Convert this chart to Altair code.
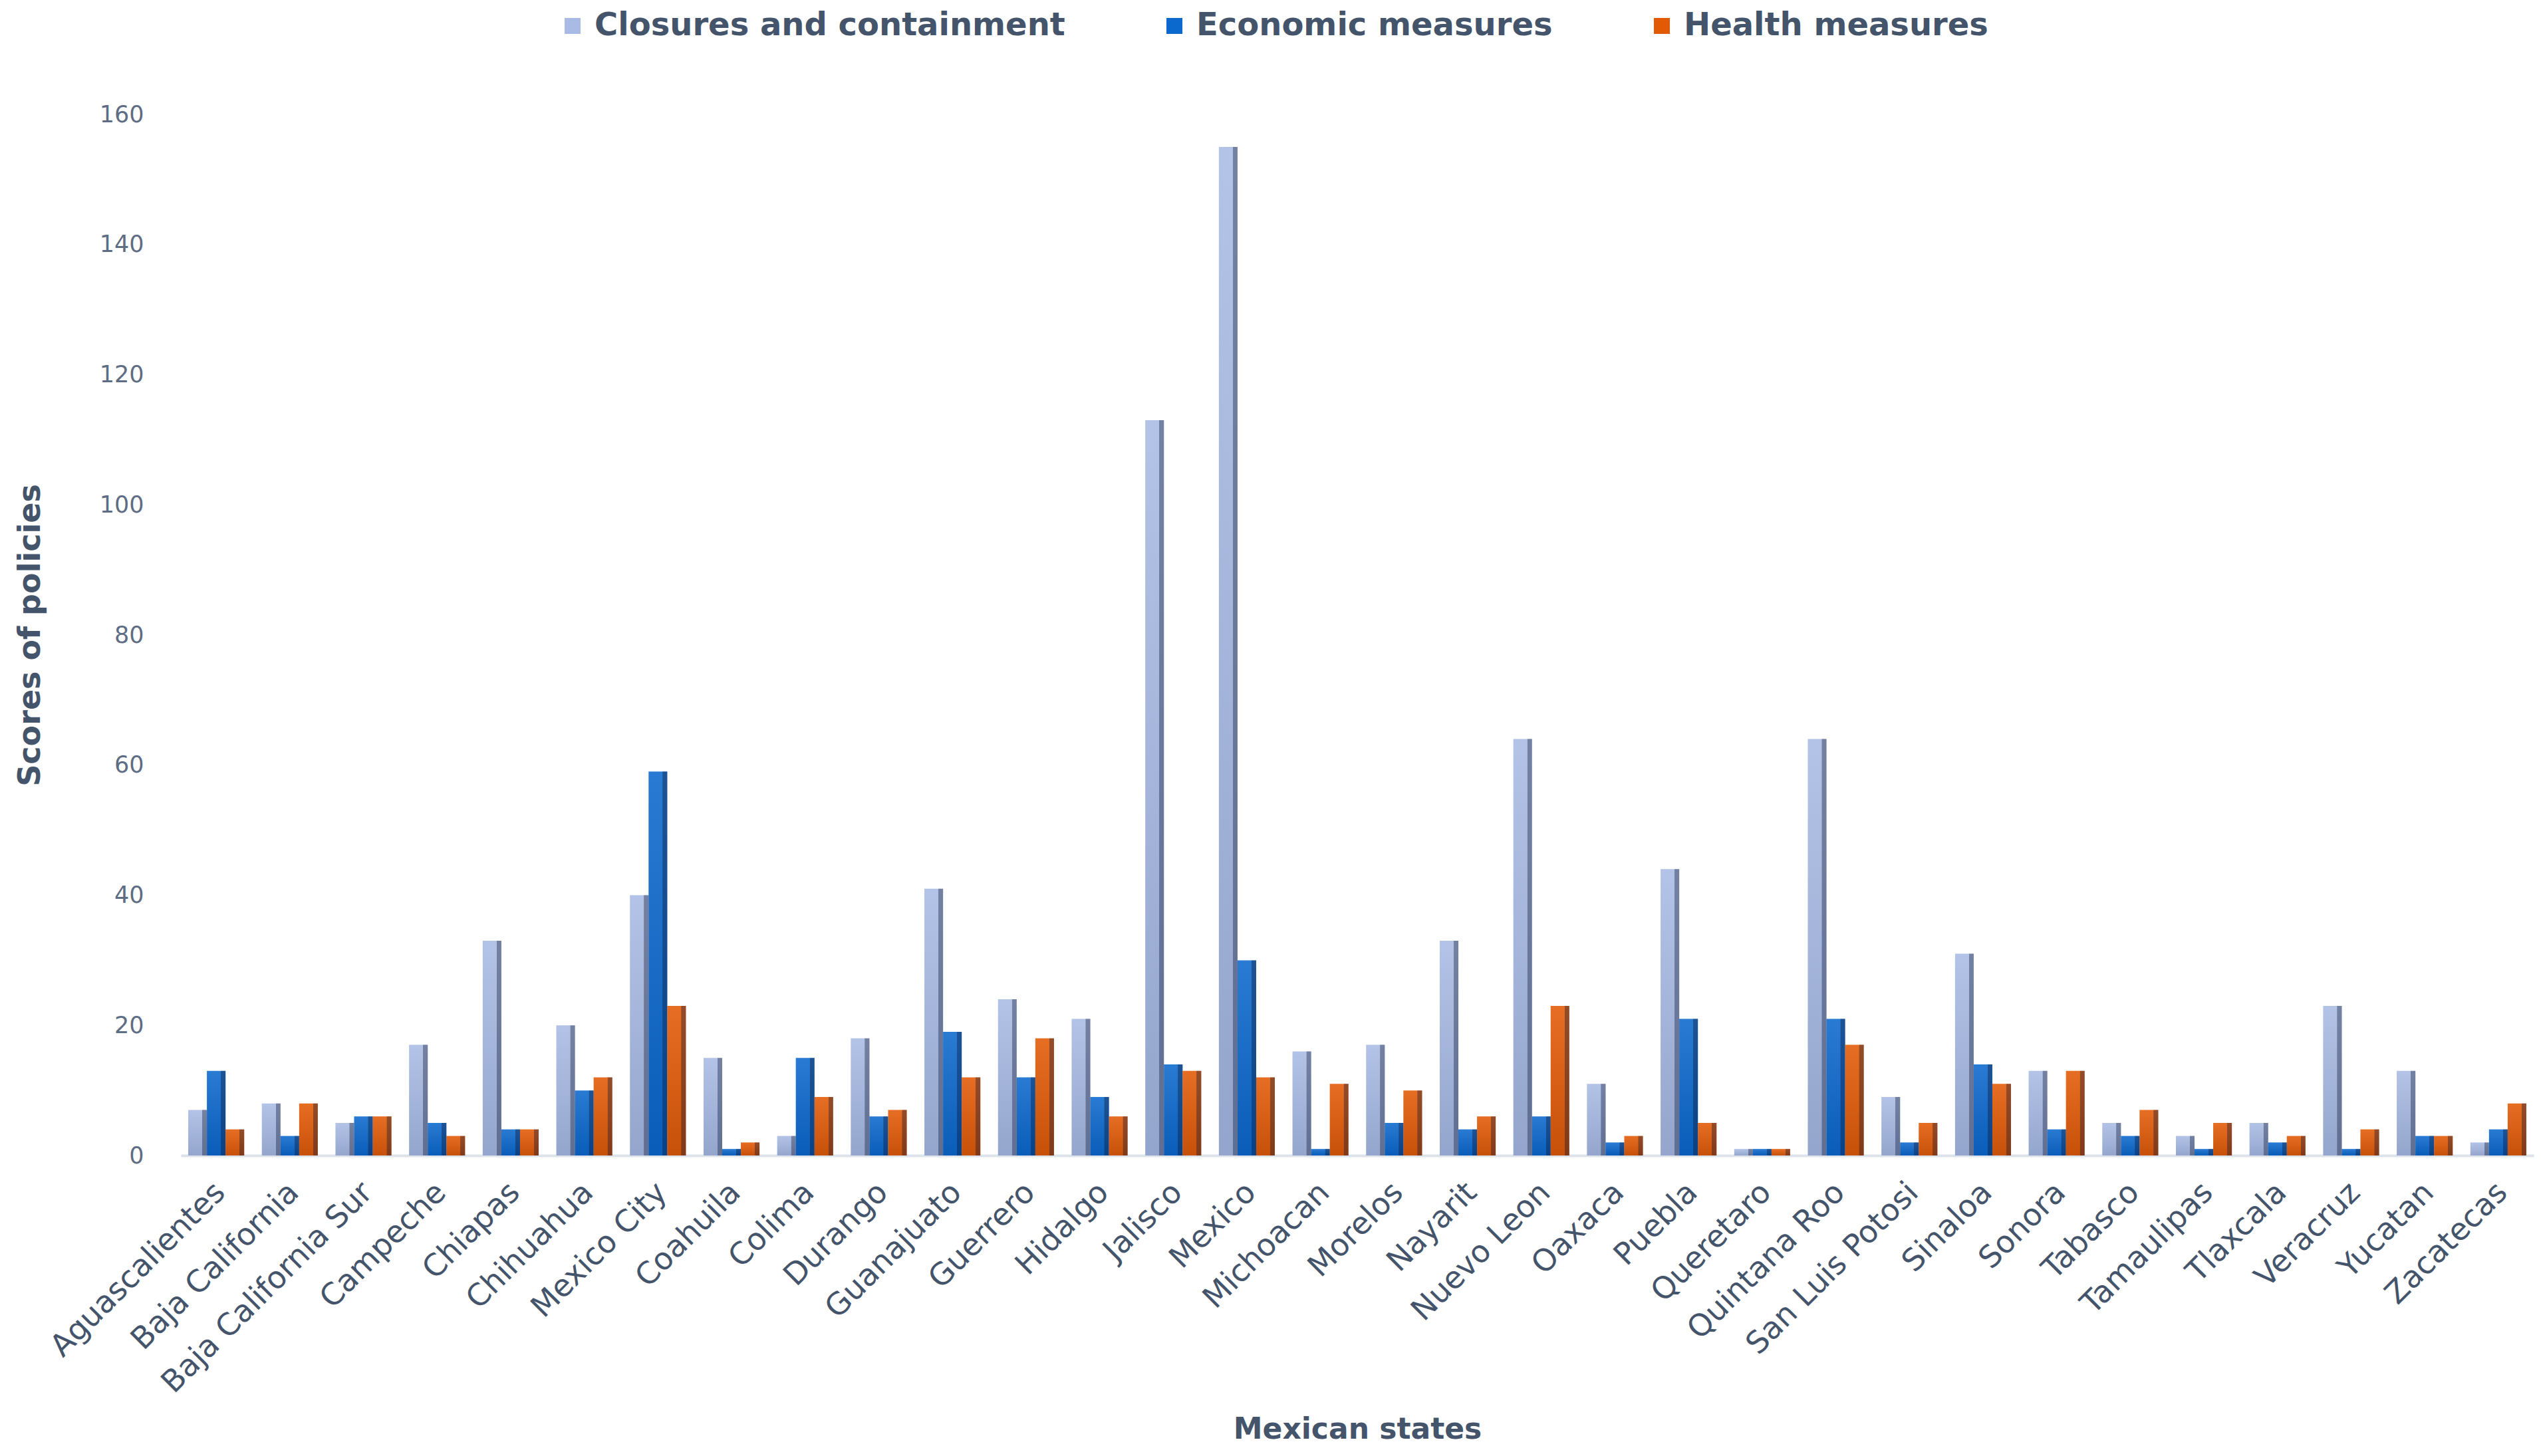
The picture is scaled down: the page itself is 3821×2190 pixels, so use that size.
import altair as alt
import pandas as pd

states = ["Aguascalientes", "Baja California", "Baja California Sur", "Campeche", "Chiapas",
          "Chihuahua", "Mexico City", "Coahuila", "Colima", "Durango", "Guanajuato", "Guerrero",
          "Hidalgo", "Jalisco", "Mexico", "Michoacan", "Morelos", "Nayarit", "Nuevo Leon",
          "Oaxaca", "Puebla", "Queretaro", "Quintana Roo", "San Luis Potosi", "Sinaloa",
          "Sonora", "Tabasco", "Tamaulipas", "Tlaxcala", "Veracruz", "Yucatan", "Zacatecas"]

closures = [7, 8, 5, 17, 33, 20, 40, 15, 3, 18, 41, 24, 21, 113, 155, 16, 17, 33, 64, 11,
            44, 1, 64, 9, 31, 13, 5, 3, 5, 23, 13, 2]
economic = [13, 3, 6, 5, 4, 10, 59, 1, 15, 6, 19, 12, 9, 14, 30, 1, 5, 4, 6, 2,
            21, 1, 21, 2, 14, 4, 3, 1, 2, 1, 3, 4]
health = [4, 8, 6, 3, 4, 12, 23, 2, 9, 7, 12, 18, 6, 13, 12, 11, 10, 6, 23, 3,
          5, 1, 17, 5, 11, 13, 7, 5, 3, 4, 3, 8]

series_names = ["Closures and containment", "Economic measures", "Health measures"]
series_colors = ["#A9BBE4", "#0B68CC", "#E35A05"]

rows = []
for name, vals in zip(series_names, [closures, economic, health]):
    for s, v in zip(states, vals):
        rows.append({"state": s, "series": name, "value": v})
df = pd.DataFrame(rows)

TEXT = "#44546A"
FONT = "DejaVu Sans"

base = alt.Chart(df).encode(
    x=alt.X("state:N", sort=states,
            scale=alt.Scale(paddingInner=0.24, paddingOuter=0.1),
            axis=alt.Axis(title="Mexican states", labelAngle=315, labelAlign="right",
                          labelBaseline="middle", labelFontSize=46, labelFont=FONT,
                          labelColor=TEXT, labelPadding=48, labelOffset=6, labelLimit=0,
                          ticks=False, tickSize=0,
                          domainColor="#DDE3EA", domainWidth=4,
                          titleFontSize=44, titleFont=FONT, titleFontWeight="bold",
                          titleColor=TEXT, titleY=412, titleBaseline="middle")),
    xOffset=alt.XOffset("series:N", sort=series_names),
    y=alt.Y("value:Q", scale=alt.Scale(domain=[0, 160], nice=False),
            axis=alt.Axis(title="Scores of policies", values=list(range(0, 161, 20)),
                          grid=False, domain=False, ticks=False, tickSize=0,
                          labelFontSize=35, labelFont=FONT, labelColor="#5E6D83",
                          labelPadding=56,
                          titleFontSize=46, titleFont=FONT, titleFontWeight="bold",
                          titleColor=TEXT, titleX=-227, titleAngle=270,
                          titleBaseline="middle", titleAlign="center")),
)

legend = alt.Legend(title=None, orient="none", legendX=565, legendY=-157,
                    direction="horizontal", symbolType="square",
                    symbolSize=576, symbolStrokeWidth=0,
                    labelFontSize=48, labelFont=FONT, labelLimit=0,
                    labelFontWeight="bold", labelColor=TEXT,
                    labelOffset=9, columnPadding=140, padding=0)

bars = base.mark_bar().encode(
    color=alt.Color("series:N", sort=series_names,
                    scale=alt.Scale(domain=series_names, range=series_colors),
                    legend=legend)
)

side_grad = alt.Gradient(
    gradient="linear", x1=0, x2=1, y1=0, y2=0,
    stops=[alt.GradientStop(color="rgba(0,0,0,0)", offset=0),
           alt.GradientStop(color="rgba(0,0,0,0)", offset=0.74),
           alt.GradientStop(color="rgba(10,20,50,0.38)", offset=0.76),
           alt.GradientStop(color="rgba(10,20,50,0.38)", offset=1)])
side = base.mark_bar(color=side_grad)

shade_grad = alt.Gradient(
    gradient="linear", x1=0, x2=0, y1=0, y2=1,
    stops=[alt.GradientStop(color="rgba(255,255,255,0.12)", offset=0),
           alt.GradientStop(color="rgba(0,10,40,0.12)", offset=1)])
shade = base.mark_bar(color=shade_grad)

chart = alt.layer(bars, shade, side).properties(
    width=3538, height=1566,
    autosize=alt.AutoSizeParams(type="none"),
    padding={"left": 264, "top": 164, "right": 3, "bottom": 444},
    view=alt.ViewBackground(stroke=None, strokeWidth=0),
).configure_view(strokeWidth=0, stroke=None).configure(font=FONT)

chart.save("out.html", embed_options={"renderer": "svg", "actions": False})
